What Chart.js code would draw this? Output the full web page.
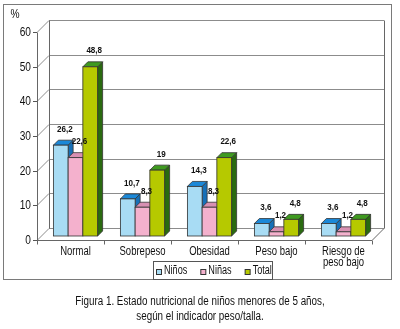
<!DOCTYPE html>
<html><head><meta charset="utf-8">
<script src="https://cdn.jsdelivr.net/npm/chart.js@4/dist/chart.umd.min.js"></script>
<style>
html,body{margin:0;padding:0;background:#fff;width:400px;height:329px;overflow:hidden;}
#wrap{position:relative;width:400px;height:329px;}
#frame{position:absolute;left:3px;top:4px;width:389px;height:276px;border:1px solid #7a7a7a;box-sizing:border-box;}
#c{position:absolute;left:0;top:0;}
#caption{position:absolute;top:294px;left:0;width:400px;text-align:center;font:12px 'Liberation Sans',Arial,sans-serif;line-height:15px;color:#111;transform:scaleX(0.82);transform-origin:200px 0;}
</style></head>
<body><div id="wrap">
<div id="frame"></div>
<canvas id="c" width="400" height="329"></canvas>
<div id="caption">Figura 1. Estado nutricional de niños menores de 5 años,<br>según el indicador peso/talla.</div>
</div>
<script>
const categories = ['Normal', 'Sobrepeso', 'Obesidad', 'Peso bajo', ['Riesgo de', 'peso bajo']];
const seriesNames = ['Niños', 'Niñas', 'Total'];
const ninos = [26.2, 10.7, 14.3, 3.6, 3.6];
const ninas = [22.6, 8.3, 8.3, 1.2, 1.2];
const total = [48.8, 19, 22.6, 4.8, 4.8];
const yTicks = [0, 10, 20, 30, 40, 50, 60];

const frontColors = ['#a8dcf4', '#f4b1cd', '#b6c900'];
const topColors = ['#1b88d8', '#d890b2', '#3f9a20'];
const sideColors = ['#1670b8', '#c47a9e', '#2a6a10'];

const FONT = "'Liberation Sans',Arial,sans-serif";
const FX = -5, FY = 4, BX = 7, BY = -8, D = 5;
const SX = 0.76;

const fmt = v => String(v).replace('.', ',');

function txt(ctx, s, x, y, sx, align, base) {
  ctx.save();
  ctx.translate(x, y);
  ctx.scale(sx, 1);
  ctx.textAlign = align; ctx.textBaseline = base;
  ctx.fillText(s, 0, 0);
  ctx.restore();
}

const walls = {
  id: 'walls',
  beforeDatasetsDraw(chart) {
    const ctx = chart.ctx, a = chart.chartArea, y = chart.scales.y, x = chart.scales.x;
    ctx.save();
    ctx.lineWidth = 1;
    yTicks.forEach(v => {
      const py = Math.round(y.getPixelForValue(v)) + 0.5;
      ctx.strokeStyle = '#8c8c8c';
      ctx.beginPath();
      ctx.moveTo(a.left + BX, py + BY); ctx.lineTo(a.right + BX, py + BY);
      ctx.moveTo(a.left + FX, py + FY); ctx.lineTo(a.left + BX, py + BY);
      ctx.stroke();
      ctx.strokeStyle = '#555';
      ctx.beginPath();
      ctx.moveTo(a.left + FX - 4, py + FY); ctx.lineTo(a.left + FX, py + FY);
      ctx.stroke();
      ctx.fillStyle = '#111';
      ctx.font = '13px ' + FONT;
      txt(ctx, String(v), a.left + FX - 6, py + FY, 0.78, 'right', 'middle');
    });
    const bot = Math.round(a.bottom) + 0.5, top = Math.round(a.top) + 0.5;
    ctx.strokeStyle = '#666';
    ctx.beginPath();
    ctx.moveTo(Math.round(a.left + BX) + 0.5, top + BY); ctx.lineTo(Math.round(a.left + BX) + 0.5, bot + BY);
    ctx.moveTo(Math.round(a.right + BX) + 0.5, top + BY); ctx.lineTo(Math.round(a.right + BX) + 0.5, bot + BY);
    ctx.moveTo(Math.round(a.left + FX) + 0.5, top + FY); ctx.lineTo(Math.round(a.left + FX) + 0.5, bot + FY);
    ctx.moveTo(a.left + FX, bot + FY); ctx.lineTo(a.right + FX, bot + FY);
    ctx.lineTo(a.right + BX, bot + BY);
    ctx.stroke();
    const n = categories.length, cw = (a.right - a.left) / n;
    ctx.beginPath();
    for (let i = 0; i <= n; i++) {
      const px = Math.round(a.left + FX + i * cw) + 0.5;
      ctx.moveTo(px, bot + FY); ctx.lineTo(px, bot + FY + 4);
    }
    ctx.stroke();
    ctx.fillStyle = '#111';
    ctx.font = '12.5px ' + FONT;
    categories.forEach((c, i) => {
      const px = x.getPixelForValue(i);
      const lines = Array.isArray(c) ? c : [c];
      lines.forEach((l, k) => txt(ctx, l, px, bot + FY + 5 + k * 11, SX, 'center', 'top'));
    });
    ctx.font = '12px ' + FONT;
    txt(ctx, '%', 15, 15, 0.85, 'center', 'middle');

    ctx.font = '12px ' + FONT;
    const lx = 153, ly = 261, lw = 119, lh = 18;
    ctx.fillStyle = '#fff';
    ctx.fillRect(lx, ly, lw, lh);
    ctx.strokeStyle = '#555';
    ctx.strokeRect(lx + 0.5, ly + 0.5, lw, lh);
    let cx = lx + 3;
    seriesNames.forEach((s, i) => {
      ctx.fillStyle = frontColors[i];
      ctx.fillRect(cx + 0.5, ly + 8.5, 5, 5);
      ctx.strokeStyle = '#333';
      ctx.strokeRect(cx + 0.5, ly + 8.5, 5, 5);
      ctx.fillStyle = '#111';
      txt(ctx, s, cx + 8, ly + lh / 2 + 1, SX, 'left', 'middle');
      cx += 8 + ctx.measureText(s).width * SX + 13;
    });
    ctx.restore();
  }
};

const bars3d = {
  id: 'bars3d',
  afterDatasetsDraw(chart) {
    const ctx = chart.ctx;
    ctx.save();
    ctx.lineWidth = 0.8;
    ctx.strokeStyle = '#333';
    const n = categories.length;
    for (let i = 0; i < n; i++) {
      chart.data.datasets.forEach((ds, di) => {
        const el = chart.getDatasetMeta(di).data[i];
        const l = el.x - el.width / 2, r = el.x + el.width / 2, t = el.y, b = el.base;
        ctx.fillStyle = sideColors[di];
        ctx.beginPath();
        ctx.moveTo(r, t); ctx.lineTo(r + D, t - D); ctx.lineTo(r + D, b - D); ctx.lineTo(r, b); ctx.closePath();
        ctx.fill(); ctx.stroke();
        ctx.fillStyle = topColors[di];
        ctx.beginPath();
        ctx.moveTo(l, t); ctx.lineTo(l + D, t - D); ctx.lineTo(r + D, t - D); ctx.lineTo(r, t); ctx.closePath();
        ctx.fill(); ctx.stroke();
        ctx.fillStyle = frontColors[di];
        ctx.fillRect(l, t, r - l, b - t);
        ctx.strokeRect(l, t, r - l, b - t);
      });
    }
    ctx.fillStyle = '#111';
    ctx.font = 'bold 9.5px ' + FONT;
    chart.data.datasets.forEach((ds, di) => {
      chart.getDatasetMeta(di).data.forEach((el, i) => {
        txt(ctx, fmt(ds.data[i]), el.x + 4, el.y - 16, 0.85, 'center', 'middle');
      });
    });
    ctx.restore();
  }
};

new Chart(document.getElementById('c'), {
  type: 'bar',
  data: {
    labels: categories,
    datasets: [
      { label: seriesNames[0], data: ninos, backgroundColor: frontColors[0] },
      { label: seriesNames[1], data: ninas, backgroundColor: frontColors[1] },
      { label: seriesNames[2], data: total, backgroundColor: frontColors[2] }
    ]
  },
  options: {
    responsive: false,
    animation: false,
    layout: { padding: { left: 42, right: 23, top: 28, bottom: 93 } },
    datasets: { bar: { categoryPercentage: 0.66, barPercentage: 1, borderWidth: 0 } },
    scales: {
      x: { display: false },
      y: { display: false, min: 0, max: 60 }
    },
    plugins: { legend: { display: false }, tooltip: { enabled: false } }
  },
  plugins: [walls, bars3d]
});
</script>
</body></html>
